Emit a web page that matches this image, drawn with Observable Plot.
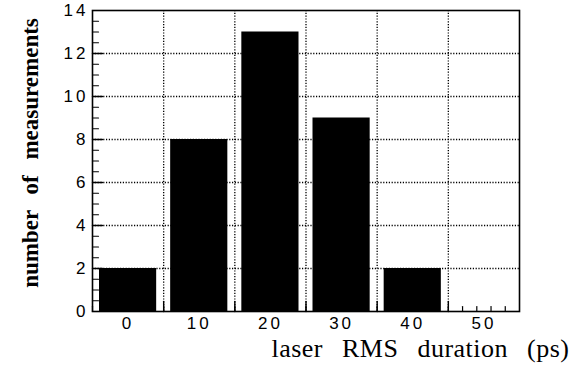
<!DOCTYPE html>
<html>
<head>
<meta charset="utf-8">
<script src="https://cdn.jsdelivr.net/npm/d3@7"></script>
<script src="https://cdn.jsdelivr.net/npm/@observablehq/plot@0.6"></script>
<style>
  html, body { margin: 0; padding: 0; background: #fff; }
  #chart svg { display: block; }
</style>
</head>
<body>
<div id="chart"></div>
<script>
// Histogram of laser RMS durations (bins 10 ps wide, centred on the labels)
const binCenters = [0, 10, 20, 30, 40];
const counts = [2, 8, 13, 9, 2];
const binWidth = 10;

const xTickLabels = [0, 10, 20, 30, 40, 50];
const yTickLabels = [0, 2, 4, 6, 8, 10, 12, 14];
const xGrid = [5, 15, 25, 35, 45];
const yGrid = [2, 4, 6, 8, 10, 12];
const xMinorTicks = d3.range(-5, 55, 1).filter(v => Math.abs(v % 2) === 1);
const yMinorTicks = d3.range(0, 14.01, 0.5);

const xTitle = "laser RMS duration (ps)";
const yTitle = "number of measurements";

const bars = binCenters.map((c, i) => ({x1: c - binWidth / 2, x2: c + binWidth / 2, count: counts[i]}));

const tickFont = {fontFamily: "'Liberation Sans', Arial, sans-serif", fontSize: 17};

// plain straight tick (no arrow head) for the vector mark
const tickLine = {draw(context, l) { context.moveTo(0, 0); context.lineTo(0, -l); }};

const chart = Plot.plot({
  width: 569,
  height: 366,
  marginLeft: 92,
  marginRight: 50,
  marginTop: 10,
  marginBottom: 55,
  style: {background: "#fff", color: "#000", overflow: "visible"},
  x: {domain: [-5, 55]},
  y: {domain: [0, 14]},
  marks: [
    // dotted grid
    Plot.ruleX(xGrid, {stroke: "#000", strokeWidth: 1.3, strokeDasharray: "1.2,1.6"}),
    Plot.ruleY(yGrid, {stroke: "#000", strokeWidth: 1.3, strokeDasharray: "1.2,1.6"}),
    // inward tick marks
    Plot.vector(yMinorTicks, {y: d => d, frameAnchor: "left", length: 6, rotate: 90, anchor: "start", shape: tickLine, stroke: "#000", strokeWidth: 1.2}),
    Plot.vector(yGrid, {y: d => d, frameAnchor: "left", length: 10, rotate: 90, anchor: "start", shape: tickLine, stroke: "#000", strokeWidth: 1.4}),
    Plot.vector(xMinorTicks, {x: d => d, frameAnchor: "bottom", length: 5, rotate: 0, anchor: "start", shape: tickLine, stroke: "#000", strokeWidth: 1.2}),
    Plot.vector(xGrid, {x: d => d, frameAnchor: "bottom", length: 10, rotate: 0, anchor: "start", shape: tickLine, stroke: "#000", strokeWidth: 1.4}),
    // histogram bars
    Plot.rectY(bars, {x1: "x1", x2: "x2", y: "count", fill: "#000", insetLeft: 7, insetRight: 7}),
    Plot.frame({stroke: "#000", strokeWidth: 1.6}),
    // tick labels
    Plot.axisY(yTickLabels, {tickSize: 0, tickPadding: 4, ...tickFont, label: null}),
    Plot.axisX(xTickLabels, {tickSize: 0, tickPadding: 5, ...tickFont, label: null}),
    // axis titles
    Plot.text([yTitle], {
      frameAnchor: "left", textAnchor: "middle", rotate: -90, dx: -62, dy: -8,
      fontFamily: "'Liberation Serif', 'Times New Roman', serif",
      fontSize: 23, fontWeight: "bold", fill: "#000"
    }),
    Plot.text([xTitle], {
      frameAnchor: "bottom-right", textAnchor: "end", lineAnchor: "bottom", dx: 50, dy: 45,
      fontFamily: "'Liberation Serif', 'Times New Roman', serif",
      fontSize: 26, fill: "#000"
    })
  ]
});

chart.querySelectorAll("g[aria-label='y-axis tick label'] text, g[aria-label='x-axis tick label'] text")
  .forEach(t => t.setAttribute("letter-spacing", "3px"));
const titles = chart.querySelectorAll("g[aria-label='text'] text");
titles[0].setAttribute("word-spacing", "10px");
titles[1].setAttribute("word-spacing", "12px");
titles[1].setAttribute("letter-spacing", "0.5px");

document.getElementById("chart").append(chart);
</script>
</body>
</html>
